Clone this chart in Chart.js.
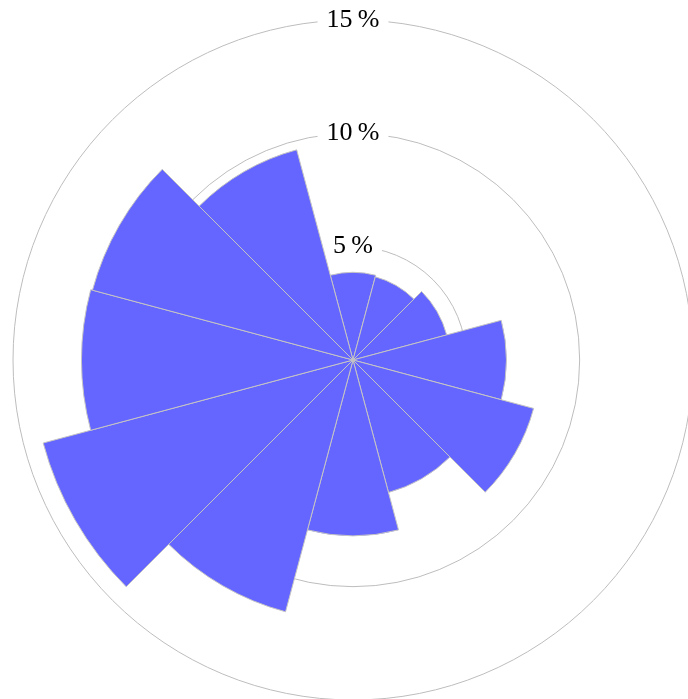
<!DOCTYPE html>
<html>
<head>
<meta charset="utf-8">
<script src="https://cdn.jsdelivr.net/npm/chart.js@4"></script>
<style>
  html, body { margin: 0; padding: 0; background: #ffffff; overflow: hidden; width: 688px; height: 699px; }
  #c { position: absolute; left: -2px; top: 5px; }
</style>
</head>
<body>
<canvas id="c" width="710" height="710"></canvas>
<script>
// Sector categories (12 sectors of 30°, first centred on north)
const categories = ['0°', '30°', '60°', '90°', '120°', '150°', '180°', '210°', '240°', '270°', '300°', '330°'];
// Percentage per sector
const shares = [3.87, 3.80, 4.28, 6.77, 8.25, 6.05, 7.76, 11.5, 14.15, 11.98, 11.9, 9.6];
// Radial tick values shown
const tickValues = [5, 10, 15];

const tickFont = { family: '"Liberation Serif", "DejaVu Serif", serif', size: 26 };
const tickPad = { x: 9, y: 2 };

new Chart(document.getElementById('c'), {
  type: 'polarArea',
  data: {
    labels: categories,
    datasets: [{
      data: shares,
      backgroundColor: '#6565FF',
      borderColor: '#c4c4c4',
      borderWidth: 1
    }]
  },
  options: {
    responsive: false,
    animation: false,
    devicePixelRatio: 1,
    layout: { padding: 0 },
    plugins: { legend: { display: false }, tooltip: { enabled: false } },
    scales: {
      r: {
        type: 'radialLinear',
        min: 0,
        max: 15,
        startAngle: -15,
        grid: { display: false },
        angleLines: { display: false },
        pointLabels: { display: false },
        ticks: {
          display: true,
          stepSize: 5,
          color: 'rgba(0,0,0,0)',
          showLabelBackdrop: false,
          font: tickFont,
          backdropPadding: tickPad
        }
      },
      r2: {
        type: 'radialLinear',
        min: 0,
        max: 15,
        startAngle: 0,
        grid: { display: true, circular: true, color: '#bdbdbd', lineWidth: 1 },
        angleLines: { display: false },
        pointLabels: { display: false },
        ticks: {
          display: true,
          stepSize: 5,
          color: '#000000',
          font: tickFont,
          showLabelBackdrop: true,
          backdropColor: '#ffffff',
          backdropPadding: tickPad,
          callback: (v) => tickValues.includes(v) ? v + '\u2009%' : ''
        }
      }
    }
  }
});
</script>
</body>
</html>
